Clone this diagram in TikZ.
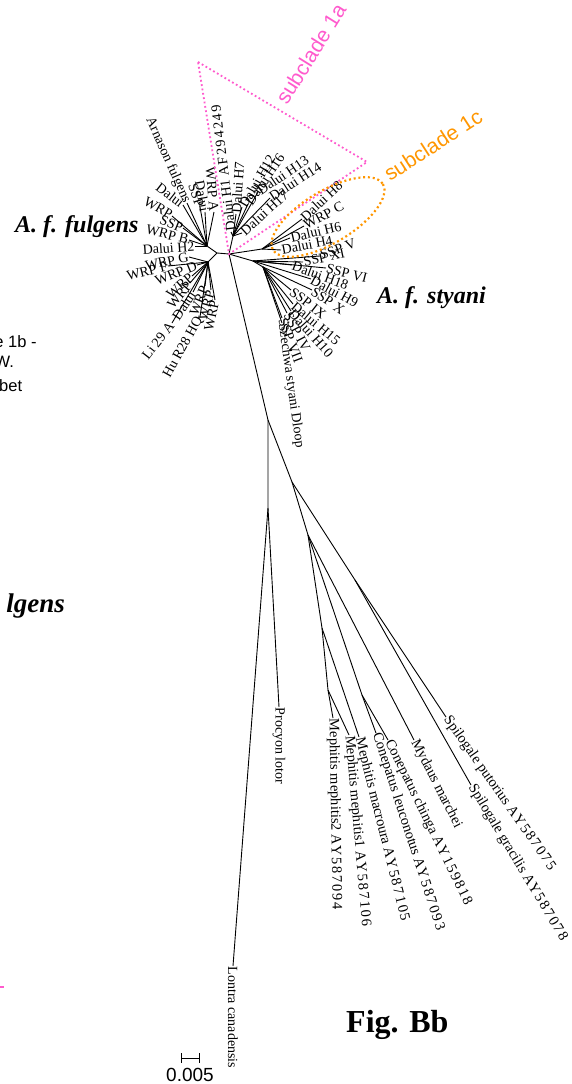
\documentclass[tikz,border=0pt]{standalone}
\usepackage{fontspec}
\setmainfont{Liberation Serif}
\newfontfamily\sansf{Liberation Sans}
\newcommand\aynum[1]{{\addfontfeature{LetterSpace=12}#1}}
\definecolor{subpink}{RGB}{255,90,205}
\definecolor{suborange}{RGB}{255,150,0}
\tikzset{
  br/.style={line width=0.9pt, black},
  lab/.style={font=\fontsize{14}{14}\selectfont, inner sep=0.5pt},
  outl/.style={lab, anchor=west},
  inl/.style={lab, anchor=east},
  big/.style={font=\fontsize{14.5}{15}\selectfont, inner sep=0.5pt, anchor=west},
  pinkdot/.style={draw=subpink, line width=1.8pt, dash pattern=on 1.8pt off 2.6pt},
  orangedot/.style={draw=suborange, line width=2.2pt, dash pattern=on 2pt off 2.8pt},
  clade/.style={font=\sansf\fontsize{21}{21}\selectfont, inner sep=0pt, anchor=base west},
  taxon/.style={font=\bfseries\itshape\fontsize{24}{24}\selectfont, inner sep=0pt, anchor=base west},
  side/.style={font=\sansf\fontsize{16.5}{17}\selectfont, inner sep=0pt, anchor=base west},
}
\begin{document}
\begin{tikzpicture}[x=1pt,y=-1pt]
\useasboundingbox (0,0) rectangle (572,1084);
\clip (0,0) rectangle (572,1084);

% internal nodes
\coordinate (R) at (229,254);
\coordinate (A) at (268,420);
\coordinate (B) at (268,508);
\coordinate (C) at (292,482);
\coordinate (D) at (308,535);
\coordinate (SJ) at (355,580);
\coordinate (CJ) at (362,695);
\coordinate (MJ) at (322,628);
\coordinate (MM) at (328,690);
\coordinate (LJ) at (217,253);
\coordinate (LU) at (207,246);
\coordinate (LD) at (208,262);
\coordinate (J1a) at (233,236);
\coordinate (J1c) at (262,249);
\coordinate (JS) at (253,261);
\coordinate (JS2) at (263,267);

% outgroup labels
\node[outl, rotate=-90] (lon) at (233,966) {Lontra canadensis};
\node[outl, rotate=-90] (pro) at (279,707) {Procyon lotor};
\node[big, rotate=-89] (mm2) at (333,718) {Mephitis mephitis2 \aynum{AY587094}};
\node[big, rotate=-85] (mm1) at (349,735) {Mephitis mephitis1 \aynum{AY587106}};
\node[big, rotate=-76] (mma) at (359,737) {Mephitis macroura \aynum{AY587105}};
\node[big, rotate=-72] (cle) at (376,733) {Conepatus leuconotus \aynum{AY587093}};
\node[big, rotate=-64] (cch) at (388,740) {Conepatus chinga \aynum{AY159818}};
\node[big, rotate=-63] (myd) at (414,740) {Mydaus marchei};
\node[big, rotate=-59] (sgr) at (471,785) {Spilogale gracilis \aynum{AY587078}};
\node[big, rotate=-55] (spu) at (446,717) {Spilogale putorius \aynum{AY587075}};

% styani cluster
\node[outl, rotate=21] (s1) at (320,256) {SSP V};
\node[outl, rotate=12] (s2) at (303,262) {SSP XI};
\node[outl, rotate=-14] (s3) at (326,268) {SSP VI};
\node[outl, rotate=-20] (s4) at (292,265) {Dalui H18};
\node[outl, rotate=-28] (s5) at (311,279) {Dalui H9};
\node[outl, rotate=-34] (s6) at (312,290) {SSP X};
\node[outl, rotate=-38] (s7) at (291,290) {SSP IX};
\node[outl, rotate=-40] (s8) at (293,304) {Dalui H15};
\node[outl, rotate=-48] (s9) at (291,311) {Dalui H10};
\node[outl, rotate=-62] (s10) at (287,313) {SSP IV};
\node[outl, rotate=-69] (s11) at (282,318) {SSP VII};
\node[outl, rotate=-82] (s12) at (282,323) {Szechwa styani Dloop};

% subclade 1c
\node[outl, rotate=11] (c1) at (281,250) {Dalui H4};
\node[outl, rotate=13] (c2) at (290,238) {Dalui H6};
\node[outl, rotate=28] (c3) at (304,226) {WRP C};
\node[outl, rotate=43] (c4) at (302,219) {Dalui H8};

% subclade 1a
\node[outl, rotate=42] (a1) at (242,233) {Dalui H17};
\node[outl, rotate=33] (a2) at (270,198) {Dalui H14};
\node[outl, rotate=34] (a3) at (258,192) {Dalui H13};
\node[outl, rotate=56] (a4) at (248,204) {Dalui H16};
\node[outl, rotate=60] (a5) at (242,207) {Dalui H12};
\node[outl, rotate=86] (a6) at (236,214) {Dalui H7};
\node[outl, rotate=97] (a7) at (231,232) {Dalui H1 \aynum{AF294249}};

% fulgens upper group
\node[inl, rotate=4] (u1) at (195,246) {Dalui H2};
\node[inl, rotate=-14] (u2) at (189,240) {WRP B};
\node[inl, rotate=-22] (u3) at (183,228) {SSP};
\node[inl, rotate=-30] (u4) at (172,216) {WRP};
\node[inl, rotate=-38] (u5) at (183,205) {Dalui};
\node[inl, rotate=-66] (u6) at (187,203) {Arnason fulgens};
\node[inl, rotate=-72] (u7) at (200,207) {SSP};
\node[inl, rotate=-80] (u8) at (205,212) {Dalui};
\node[inl, rotate=-85] (u9) at (214,212) {WRP A};

% fulgens lower group
\node[inl, rotate=12] (d1) at (189,257) {WRP G};
\node[inl, rotate=14] (d2) at (168,266) {WRP F};
\node[inl, rotate=22] (d3) at (197,265) {WRP D};
\node[inl, rotate=40] (d4) at (192,276) {WRP};
\node[inl, rotate=50] (d5) at (190,283) {WRP};
\node[inl, rotate=56] (d6) at (193,292) {Dalui};
\node[inl, rotate=52] (d7) at (172,323) {Li 29 A};
\node[inl, rotate=61] (d8) at (200,317) {Hu R28 HQ};
\node[inl, rotate=68] (d9) at (205,286) {WRP};
\node[inl, rotate=74] (d10) at (211,290) {WRP};
\node[inl, rotate=78] (d11) at (215,300) {WRP};

% tree edges
\draw[br] (R) -- (A) -- (B) -- (lon.west);
\draw[br] (B) -- (pro.west);
\draw[br] (A) -- (C) -- (SJ) -- (spu.west);
\draw[br] (SJ) -- (sgr.west);
\draw[br] (C) -- (D) -- (myd.west);
\draw[br] (D) -- (CJ) -- (cch.west);
\draw[br] (CJ) -- (cle.west);
\draw[br] (D) -- (MJ) -- (mma.west);
\draw[br] (MJ) -- (MM) -- (mm1.west);
\draw[br] (MM) -- (mm2.west);

\draw[br] (R) -- (LJ) -- (LU);
\draw[br] (LJ) -- (LD);
\draw[br] (R) -- (J1a);
\draw[br] (R) -- (J1c);
\draw[br] (R) -- (JS) -- (JS2);
\foreach \n in {s1,s2,s3,s4,s5} \draw[br] (JS) -- (\n.west);
\foreach \n in {s6,s7,s8,s9,s10,s11,s12} \draw[br] (JS2) -- (\n.west);
\foreach \n in {c1,c2,c3,c4} \draw[br] (J1c) -- (\n.west);
\foreach \n in {a1,a2,a3,a4,a5,a6,a7} \draw[br] (J1a) -- (\n.west);
\foreach \n in {u1,u2,u3,u4,u5,u6,u7,u8,u9} \draw[br] (LU) -- (\n.east);
\foreach \n in {d1,d2,d3,d4,d5,d6,d7,d8,d9,d10,d11} \draw[br] (LD) -- (\n.east);

% clade marks
\coordinate (T1) at (198,62);
\coordinate (T2) at (367,162);
\draw[pinkdot] (T1) -- (T2) -- (R) -- cycle;
\coordinate (E) at (328,217);
\draw[orangedot, rotate around={31:(E)}] (E) ellipse [x radius=64, y radius=26];
\node[clade, text=subpink, rotate=58] (c1a) at (287,106) {subclade 1a};
\node[clade, text=suborange, rotate=33] (c1c) at (390,182) {subclade 1c};

% big taxon labels
\node[taxon] (ful) at (15,232) {A. f. fulgens};
\node[taxon] (sty) at (377,303) {A. f. styani};
\node[taxon, font=\bfseries\itshape\fontsize{27}{27}\selectfont, anchor=base east] (ful2) at (65,612) {lgens};
\node[font=\bfseries\fontsize{32}{32}\selectfont, inner sep=0pt, anchor=base west] (fig) at (346,1032) {Fig. Bb};

% side text fragments
\node[side] (t1) at (-5.8,347) {e 1b -};
\node[side] (t2) at (-5.6,367) {W.};
\node[side] (t3) at (-1,391) {bet};
\coordinate (pm1) at (0,987);
\coordinate (pm2) at (3.5,987);
\draw[subpink, line width=1.6pt] (pm1) -- (pm2);

% scale bar
\coordinate (sb1) at (181,1058);
\coordinate (sb2) at (199,1058);
\coordinate (sb1t) at (181,1053);
\coordinate (sb1b) at (181,1063);
\coordinate (sb2t) at (199,1053);
\coordinate (sb2b) at (199,1063);
\draw[line width=0.8pt] (sb1) -- (sb2);
\draw[line width=0.8pt] (sb1t) -- (sb1b);
\draw[line width=0.8pt] (sb2t) -- (sb2b);
\node[side, font=\sansf\fontsize{19}{19}\selectfont] (sbl) at (166,1081) {0.005};
\end{tikzpicture}
\end{document}
